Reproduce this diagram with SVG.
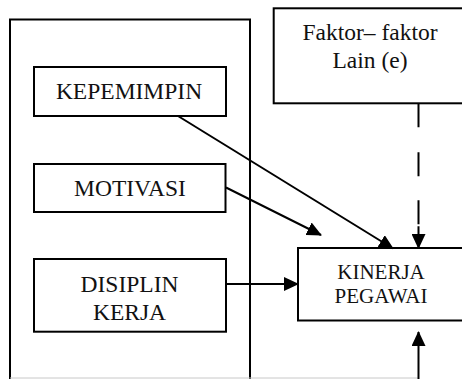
<svg xmlns="http://www.w3.org/2000/svg" width="462" height="379" viewBox="0 0 462 379">
<style>
.box{fill:none;stroke:#000;stroke-width:2}
.bg{fill:#fff;stroke:#000;stroke-width:2}
text{font-family:'Times New Roman','Liberation Serif',Tinos,'DejaVu Serif',serif;fill:#111;text-anchor:middle}
.t{font-size:23.5px}
.ts{font-size:21px}
.c{fill:none;stroke:#000;stroke-width:2}
</style>
<defs>
<marker id="ah" viewBox="0 0 15 14" refX="14" refY="7" markerWidth="15" markerHeight="14" markerUnits="userSpaceOnUse" orient="auto">
<path d="M0,0 L15,7 L0,14 z" fill="#000"/>
</marker>
</defs>
<rect x="0" y="0" width="462" height="379" fill="#fff"/>
<g id="outer">
<rect class="box" x="10" y="19.5" width="240" height="420"/>
<line x1="10" y1="378" x2="418" y2="378" stroke="#c8c8c8" stroke-width="1"/>
</g>
<g id="faktor">
<rect class="bg" x="273.7" y="8.3" width="200" height="95"/>
<text class="t" x="370" y="40">Faktor– faktor</text>
<text class="t" x="370" y="68">Lain (e)</text>
</g>
<g id="kepemimpin">
<rect class="bg" x="34" y="67" width="192" height="49"/>
<text class="t" x="129" y="99">KEPEMIMPIN</text>
</g>
<g id="motivasi">
<rect class="bg" x="34" y="164" width="191.5" height="48"/>
<text class="t" x="130" y="196">MOTIVASI</text>
</g>
<g id="disiplin">
<rect class="bg" x="34" y="259" width="192" height="72.7"/>
<text class="t" x="129.5" y="292">DISIPLIN</text>
<text class="t" x="129.5" y="320">KERJA</text>
</g>
<g id="kinerja">
<rect class="bg" x="298" y="248" width="180" height="72.5"/>
<text class="ts" x="381" y="279">KINERJA</text>
<text class="ts" x="381" y="303">PEGAWAI</text>
</g>
<g id="connectors">
<line class="c" x1="178" y1="116" x2="393" y2="248.5" marker-end="url(#ah)"/>
<line class="c" x1="226" y1="187.5" x2="321" y2="235" marker-end="url(#ah)"/>
<line class="c" x1="226" y1="284" x2="298" y2="284" marker-end="url(#ah)"/>
<line class="c" x1="418.5" y1="103.3" x2="418.5" y2="248" stroke-dasharray="24,25,24,24,24,2,100" marker-end="url(#ah)"/>
<line class="c" x1="418.5" y1="379" x2="418.5" y2="332" marker-end="url(#ah)"/>
</g>
</svg>
